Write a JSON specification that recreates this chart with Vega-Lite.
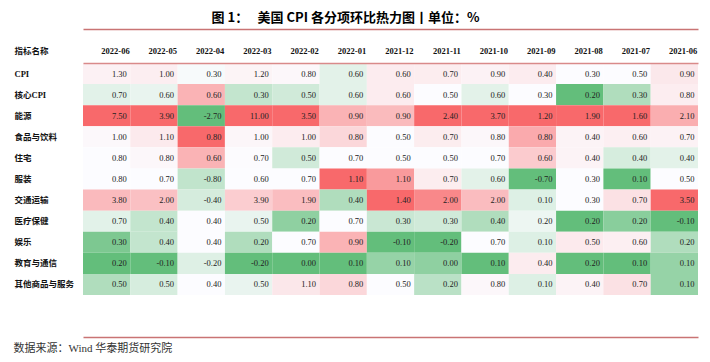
{
  "$schema": "https://vega.github.io/schema/vega-lite/v6.json",
  "width": 615,
  "height": 232,
  "autosize": {"type": "none"},
  "padding": {"left": 83, "top": 63, "right": 12, "bottom": 67},
  "background": "white",
  "config": {
    "view": {"stroke": null},
    "locale": {"number": {"decimal": ".", "thousands": ",", "grouping": [3], "currency": ["", ""], "minus": "-"}}
  },
  "data": {"values": [
    {"name":"CPI","month":"2022-06","value":1.3},{"name":"CPI","month":"2022-05","value":1.0},{"name":"CPI","month":"2022-04","value":0.3},{"name":"CPI","month":"2022-03","value":1.2},{"name":"CPI","month":"2022-02","value":0.8},{"name":"CPI","month":"2022-01","value":0.6},{"name":"CPI","month":"2021-12","value":0.6},{"name":"CPI","month":"2021-11","value":0.7},{"name":"CPI","month":"2021-10","value":0.9},{"name":"CPI","month":"2021-09","value":0.4},{"name":"CPI","month":"2021-08","value":0.3},{"name":"CPI","month":"2021-07","value":0.5},{"name":"CPI","month":"2021-06","value":0.9},
    {"name":"核心CPI","month":"2022-06","value":0.7},{"name":"核心CPI","month":"2022-05","value":0.6},{"name":"核心CPI","month":"2022-04","value":0.6},{"name":"核心CPI","month":"2022-03","value":0.3},{"name":"核心CPI","month":"2022-02","value":0.5},{"name":"核心CPI","month":"2022-01","value":0.6},{"name":"核心CPI","month":"2021-12","value":0.6},{"name":"核心CPI","month":"2021-11","value":0.5},{"name":"核心CPI","month":"2021-10","value":0.6},{"name":"核心CPI","month":"2021-09","value":0.3},{"name":"核心CPI","month":"2021-08","value":0.2},{"name":"核心CPI","month":"2021-07","value":0.3},{"name":"核心CPI","month":"2021-06","value":0.8},
    {"name":"能源","month":"2022-06","value":7.5},{"name":"能源","month":"2022-05","value":3.9},{"name":"能源","month":"2022-04","value":-2.7},{"name":"能源","month":"2022-03","value":11.0},{"name":"能源","month":"2022-02","value":3.5},{"name":"能源","month":"2022-01","value":0.9},{"name":"能源","month":"2021-12","value":0.9},{"name":"能源","month":"2021-11","value":2.4},{"name":"能源","month":"2021-10","value":3.7},{"name":"能源","month":"2021-09","value":1.2},{"name":"能源","month":"2021-08","value":1.9},{"name":"能源","month":"2021-07","value":1.6},{"name":"能源","month":"2021-06","value":2.1},
    {"name":"食品与饮料","month":"2022-06","value":1.0},{"name":"食品与饮料","month":"2022-05","value":1.1},{"name":"食品与饮料","month":"2022-04","value":0.8},{"name":"食品与饮料","month":"2022-03","value":1.0},{"name":"食品与饮料","month":"2022-02","value":1.0},{"name":"食品与饮料","month":"2022-01","value":0.8},{"name":"食品与饮料","month":"2021-12","value":0.5},{"name":"食品与饮料","month":"2021-11","value":0.7},{"name":"食品与饮料","month":"2021-10","value":0.8},{"name":"食品与饮料","month":"2021-09","value":0.8},{"name":"食品与饮料","month":"2021-08","value":0.4},{"name":"食品与饮料","month":"2021-07","value":0.6},{"name":"食品与饮料","month":"2021-06","value":0.7},
    {"name":"住宅","month":"2022-06","value":0.8},{"name":"住宅","month":"2022-05","value":0.8},{"name":"住宅","month":"2022-04","value":0.6},{"name":"住宅","month":"2022-03","value":0.7},{"name":"住宅","month":"2022-02","value":0.5},{"name":"住宅","month":"2022-01","value":0.7},{"name":"住宅","month":"2021-12","value":0.5},{"name":"住宅","month":"2021-11","value":0.5},{"name":"住宅","month":"2021-10","value":0.7},{"name":"住宅","month":"2021-09","value":0.6},{"name":"住宅","month":"2021-08","value":0.4},{"name":"住宅","month":"2021-07","value":0.4},{"name":"住宅","month":"2021-06","value":0.4},
    {"name":"服装","month":"2022-06","value":0.8},{"name":"服装","month":"2022-05","value":0.7},{"name":"服装","month":"2022-04","value":-0.8},{"name":"服装","month":"2022-03","value":0.6},{"name":"服装","month":"2022-02","value":0.7},{"name":"服装","month":"2022-01","value":1.1},{"name":"服装","month":"2021-12","value":1.1},{"name":"服装","month":"2021-11","value":0.7},{"name":"服装","month":"2021-10","value":0.6},{"name":"服装","month":"2021-09","value":-0.7},{"name":"服装","month":"2021-08","value":0.3},{"name":"服装","month":"2021-07","value":0.1},{"name":"服装","month":"2021-06","value":0.5},
    {"name":"交通运输","month":"2022-06","value":3.8},{"name":"交通运输","month":"2022-05","value":2.0},{"name":"交通运输","month":"2022-04","value":-0.4},{"name":"交通运输","month":"2022-03","value":3.9},{"name":"交通运输","month":"2022-02","value":1.9},{"name":"交通运输","month":"2022-01","value":0.4},{"name":"交通运输","month":"2021-12","value":1.4},{"name":"交通运输","month":"2021-11","value":2.0},{"name":"交通运输","month":"2021-10","value":2.0},{"name":"交通运输","month":"2021-09","value":0.1},{"name":"交通运输","month":"2021-08","value":0.3},{"name":"交通运输","month":"2021-07","value":0.7},{"name":"交通运输","month":"2021-06","value":3.5},
    {"name":"医疗保健","month":"2022-06","value":0.7},{"name":"医疗保健","month":"2022-05","value":0.4},{"name":"医疗保健","month":"2022-04","value":0.4},{"name":"医疗保健","month":"2022-03","value":0.5},{"name":"医疗保健","month":"2022-02","value":0.2},{"name":"医疗保健","month":"2022-01","value":0.7},{"name":"医疗保健","month":"2021-12","value":0.3},{"name":"医疗保健","month":"2021-11","value":0.3},{"name":"医疗保健","month":"2021-10","value":0.4},{"name":"医疗保健","month":"2021-09","value":0.2},{"name":"医疗保健","month":"2021-08","value":0.2},{"name":"医疗保健","month":"2021-07","value":0.2},{"name":"医疗保健","month":"2021-06","value":-0.1},
    {"name":"娱乐","month":"2022-06","value":0.3},{"name":"娱乐","month":"2022-05","value":0.4},{"name":"娱乐","month":"2022-04","value":0.4},{"name":"娱乐","month":"2022-03","value":0.2},{"name":"娱乐","month":"2022-02","value":0.7},{"name":"娱乐","month":"2022-01","value":0.9},{"name":"娱乐","month":"2021-12","value":-0.1},{"name":"娱乐","month":"2021-11","value":-0.2},{"name":"娱乐","month":"2021-10","value":0.7},{"name":"娱乐","month":"2021-09","value":0.1},{"name":"娱乐","month":"2021-08","value":0.5},{"name":"娱乐","month":"2021-07","value":0.6},{"name":"娱乐","month":"2021-06","value":0.2},
    {"name":"教育与通信","month":"2022-06","value":0.2},{"name":"教育与通信","month":"2022-05","value":-0.1},{"name":"教育与通信","month":"2022-04","value":-0.2},{"name":"教育与通信","month":"2022-03","value":-0.2},{"name":"教育与通信","month":"2022-02","value":0.0},{"name":"教育与通信","month":"2022-01","value":0.1},{"name":"教育与通信","month":"2021-12","value":0.1},{"name":"教育与通信","month":"2021-11","value":0.0},{"name":"教育与通信","month":"2021-10","value":0.1},{"name":"教育与通信","month":"2021-09","value":0.4},{"name":"教育与通信","month":"2021-08","value":0.2},{"name":"教育与通信","month":"2021-07","value":0.1},{"name":"教育与通信","month":"2021-06","value":0.1},
    {"name":"其他商品与服务","month":"2022-06","value":0.5},{"name":"其他商品与服务","month":"2022-05","value":0.5},{"name":"其他商品与服务","month":"2022-04","value":0.4},{"name":"其他商品与服务","month":"2022-03","value":0.5},{"name":"其他商品与服务","month":"2022-02","value":1.1},{"name":"其他商品与服务","month":"2022-01","value":0.8},{"name":"其他商品与服务","month":"2021-12","value":0.5},{"name":"其他商品与服务","month":"2021-11","value":0.2},{"name":"其他商品与服务","month":"2021-10","value":0.8},{"name":"其他商品与服务","month":"2021-09","value":0.1},{"name":"其他商品与服务","month":"2021-08","value":0.4},{"name":"其他商品与服务","month":"2021-07","value":0.7},{"name":"其他商品与服务","month":"2021-06","value":0.1}
  ]},
  "encoding": {
    "y": {
      "field": "name",
      "type": "ordinal",
      "sort": ["CPI","核心CPI","能源","食品与饮料","住宅","服装","交通运输","医疗保健","娱乐","教育与通信","其他商品与服务"],
      "scale": {"paddingInner": 0, "paddingOuter": 0},
      "axis": {
        "orient": "left",
        "domain": false,
        "ticks": false,
        "grid": false,
        "labelAlign": "left",
        "labelBaseline": "middle",
        "labelPadding": 69,
        "labelFont": "'Liberation Serif', 'Noto Sans CJK SC'",
        "labelFontSize": 8.5,
        "labelFontWeight": "bold",
        "labelColor": "#111111",
        "labelOverlap": false,
        "title": "指标名称",
        "titleAngle": 0,
        "titleAlign": "left",
        "titleBaseline": "middle",
        "titleX": -69,
        "titleY": -13,
        "titleFont": "'Liberation Serif', 'Noto Sans CJK SC'",
        "titleFontSize": 8.5,
        "titleFontWeight": "bold",
        "titleColor": "#111111"
      }
    }
  },
  "resolve": {"axis": {"x": "independent"}},
  "layer": [
    {
      "transform": [
        {"joinaggregate": [
          {"op": "min", "field": "value", "as": "mn"},
          {"op": "max", "field": "value", "as": "mx"},
          {"op": "median", "field": "value", "as": "med"}
        ], "groupby": ["month"]},
        {"calculate": "datum.value <= datum.med ? (datum.med == datum.mn ? 0.5 : 0.5 * (datum.value - datum.mn) / (datum.med - datum.mn)) : (datum.mx == datum.med ? 0.5 : 0.5 + 0.5 * (datum.value - datum.med) / (datum.mx - datum.med))", "as": "t"}
      ],
      "mark": {"type": "rect"},
      "encoding": {
        "x": {
          "field": "month",
          "type": "ordinal",
          "sort": ["2022-06","2022-05","2022-04","2022-03","2022-02","2022-01","2021-12","2021-11","2021-10","2021-09","2021-08","2021-07","2021-06"],
          "scale": {"paddingInner": 0, "paddingOuter": 0},
          "axis": {
            "orient": "top",
            "zindex": 1,
            "domain": false,
            "ticks": false,
            "grid": false,
            "labelAngle": 0,
            "labelAlign": "right",
            "labelBaseline": "middle",
            "labelOffset": 23,
            "labelPadding": 13,
            "labelOverlap": false,
            "labelFlush": false,
            "labelFont": "'Liberation Serif', 'Noto Sans CJK SC'",
            "labelFontSize": 8.5,
            "labelFontWeight": "bold",
            "labelColor": "#111111",
            "title": null
          }
        },
        "color": {
          "field": "t",
          "type": "quantitative",
          "scale": {"type": "linear", "domain": [0, 0.5, 1], "range": ["#63BE7B", "#FCFCFF", "#F8696B"], "interpolate": "rgb"},
          "legend": null
        }
      }
    },
    {
      "mark": {"type": "text", "align": "right", "baseline": "middle", "dx": -3.5, "font": "'Liberation Serif', 'Noto Sans CJK SC'", "fontSize": 8.5, "color": "#222222"},
      "encoding": {
        "x": {
          "field": "month",
          "type": "ordinal",
          "bandPosition": 1,
          "sort": ["2022-06","2022-05","2022-04","2022-03","2022-02","2022-01","2021-12","2021-11","2021-10","2021-09","2021-08","2021-07","2021-06"],
          "axis": {
            "orient": "bottom",
            "offset": 42,
            "zindex": 1,
            "domain": true,
            "domainColor": "#C97474",
            "domainWidth": 1.5,
            "ticks": false,
            "labels": false,
            "grid": false,
            "title": "数据来源：Wind 华泰期货研究院",
            "titleAlign": "left",
            "titleBaseline": "middle",
            "titleAngle": 0,
            "titleX": -70,
            "titleY": 11,
            "titleFont": "'Liberation Serif', 'Noto Sans CJK SC'",
            "titleFontSize": 11,
            "titleFontWeight": "normal",
            "titleColor": "#333333"
          }
        },
        "text": {"field": "value", "type": "quantitative", "format": ".2f"}
      }
    },
    {
      "mark": {"type": "text", "opacity": 0},
      "encoding": {
        "x": {
          "field": "month",
          "type": "ordinal",
          "bandPosition": 1,
          "sort": ["2022-06","2022-05","2022-04","2022-03","2022-02","2022-01","2021-12","2021-11","2021-10","2021-09","2021-08","2021-07","2021-06"],
          "axis": {
            "orient": "top",
            "offset": 34,
            "zindex": 1,
            "domain": true,
            "domainColor": "#C97474",
            "domainWidth": 1.5,
            "ticks": false,
            "labels": false,
            "grid": false,
            "title": "图 1：　 美国 CPI 各分项环比热力图丨单位：%",
            "titleAlign": "center",
            "titleBaseline": "middle",
            "titleAngle": 0,
            "titleX": 262,
            "titleY": -12,
            "titleFont": "'Noto Sans CJK SC'",
            "titleFontSize": 13,
            "titleFontWeight": "bold",
            "titleColor": "#000000"
          }
        },
        "text": {"field": "value", "type": "quantitative", "format": ".2f"}
      }
    },
    {
      "mark": {"type": "text", "opacity": 0},
      "encoding": {
        "x": {
          "field": "month",
          "type": "ordinal",
          "bandPosition": 1,
          "sort": ["2022-06","2022-05","2022-04","2022-03","2022-02","2022-01","2021-12","2021-11","2021-10","2021-09","2021-08","2021-07","2021-06"],
          "axis": {
            "orient": "top",
            "offset": 0,
            "zindex": 1,
            "domain": true,
            "domainColor": "#D98A8A",
            "domainWidth": 1.3,
            "ticks": false,
            "labels": false,
            "grid": false,
            "title": null
          }
        },
        "text": {"field": "value", "type": "quantitative", "format": ".2f"}
      }
    }
  ]
}
